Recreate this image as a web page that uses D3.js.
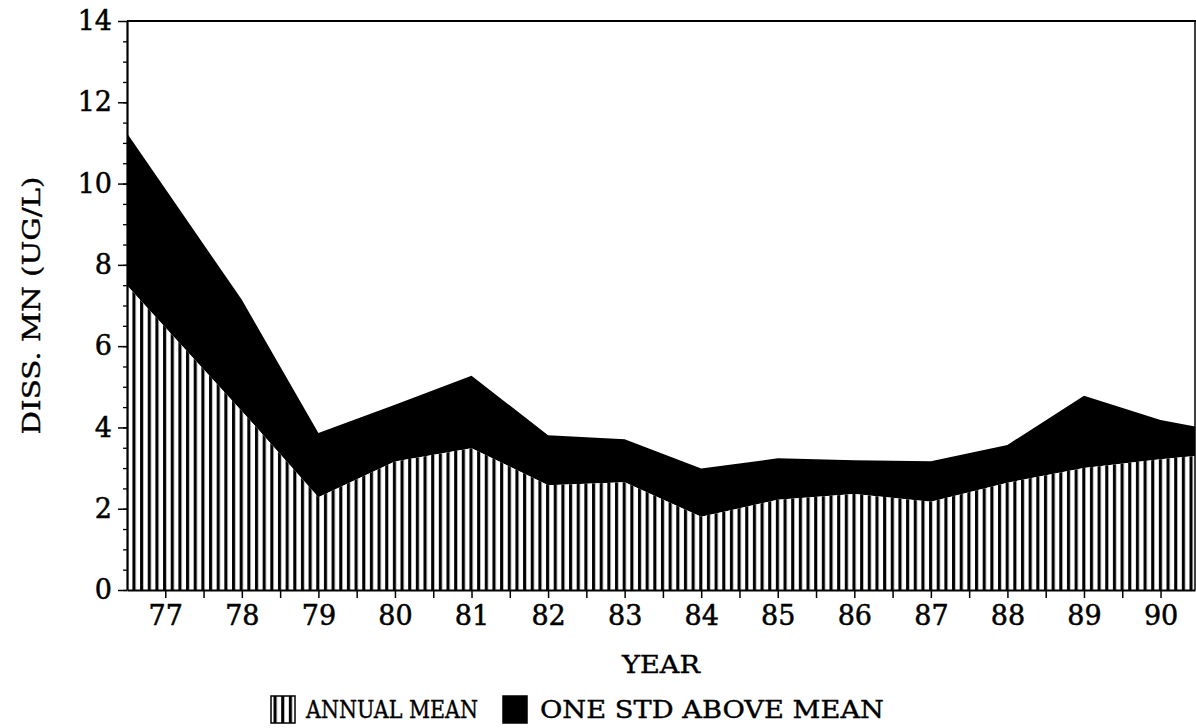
<!DOCTYPE html>
<html>
<head>
<meta charset="utf-8">
<script src="https://cdn.jsdelivr.net/npm/d3@7"></script>
<style>
  body { margin: 0; background: #fff; }
  svg { display: block; }
</style>
</head>
<body>
<svg id="chart"></svg>
<script>
// values; first and last entries are where the plot edges cut the series
const years = [76.5, 77, 78, 79, 80, 81, 82, 83, 84, 85, 86, 87, 88, 89, 90, 90.45];
const annualMean = [7.49, 6.46, 4.4, 2.28, 3.16, 3.49, 2.58, 2.65, 1.8, 2.22, 2.36, 2.17, 2.64, 3.0, 3.22, 3.3];
const oneStdAbove = [11.24, 9.87, 7.14, 3.86, 4.56, 5.27, 3.81, 3.71, 2.99, 3.24, 3.19, 3.17, 3.57, 4.78, 4.18, 4.02];

const yearLabels = [77, 78, 79, 80, 81, 82, 83, 84, 85, 86, 87, 88, 89, 90];
const yTickLabels = [0, 2, 4, 6, 8, 10, 12, 14];
const legendLabels = ['ANNUAL MEAN', 'ONE STD ABOVE MEAN'];

const width = 1196;
const height = 728;
const margin = { top: 21, right: 1, bottom: 138, left: 127 };
const graphW = width - margin.left - margin.right;
const graphH = height - margin.top - margin.bottom;
const font = "'DejaVu Serif', 'Liberation Serif', serif";

const svg = d3.select('#chart')
  .attr('width', width)
  .attr('height', height)
  .style('font-family', font);

// vertical hatching for the mean area
const defs = svg.append('defs');
const hatch = defs.append('pattern')
  .attr('id', 'vhatch')
  .attr('patternUnits', 'userSpaceOnUse')
  .attr('x', margin.left)
  .attr('width', 7.66)
  .attr('height', 10);
hatch.append('rect').attr('width', 7.66).attr('height', 10).attr('fill', '#fff');
hatch.append('rect').attr('x', 1).attr('width', 3.1).attr('height', 10).attr('fill', '#000');

const xScale = d3.scaleLinear()
  .domain([years[0], years[years.length - 1]])
  .range([0, graphW]);
const yScale = d3.scaleLinear().domain([0, 14]).range([graphH, 0]);

const series = years.map((yr, i) => ({
  year: yr,
  mean: annualMean[i],
  upper: oneStdAbove[i],
}));

const graph = svg.append('g')
  .attr('transform', `translate(${margin.left},${margin.top})`);

const stdArea = d3.area()
  .x(d => xScale(d.year))
  .y0(d => yScale(d.mean))
  .y1(d => yScale(d.upper));

const meanArea = d3.area()
  .x(d => xScale(d.year))
  .y0(yScale(0))
  .y1(d => yScale(d.mean));

graph.append('path')
  .datum(series)
  .attr('d', stdArea)
  .attr('fill', '#000');

graph.append('path')
  .datum(series)
  .attr('d', meanArea)
  .attr('fill', 'url(#vhatch)');

// frame: top and right edges
graph.append('line')
  .attr('x1', 0).attr('x2', graphW + 1)
  .attr('y1', 0).attr('y2', 0)
  .attr('stroke', '#000').attr('stroke-width', 2);
graph.append('line')
  .attr('x1', graphW).attr('x2', graphW)
  .attr('y1', 0).attr('y2', graphH)
  .attr('stroke', '#000').attr('stroke-width', 1.5);

// x axis, ticks every half year, labels on whole years
const halfYears = d3.range(77, 90.5, 0.5);
const xAxis = d3.axisBottom(xScale)
  .tickValues(halfYears)
  .tickSize(8)
  .tickSizeOuter(0)
  .tickPadding(8)
  .tickFormat(d => (yearLabels.includes(d) ? d : ''));

const gx = graph.append('g')
  .attr('transform', `translate(0,${graphH})`)
  .call(xAxis);

// y axis: minor ticks, then labelled major ticks
const gyMinor = graph.append('g')
  .call(d3.axisLeft(yScale).tickValues(d3.range(0, 14, 0.5)).tickSize(4).tickFormat(''));
gyMinor.select('.domain').remove();

const gy = graph.append('g')
  .call(d3.axisLeft(yScale)
    .tickValues(yTickLabels)
    .tickSize(9)
    .tickSizeOuter(0)
    .tickPadding(6));

[gx, gy].forEach(g => {
  g.select('.domain').attr('stroke-width', 2.2);
  g.selectAll('.tick line').attr('stroke-width', 1.5);
  g.selectAll('text')
    .attr('font-family', font)
    .attr('font-size', 27)
    .attr('fill', '#000')
    .attr('stroke', '#000')
    .attr('stroke-width', 0.5);
});
gyMinor.selectAll('.tick line').attr('stroke-width', 1.3);

// axis titles
svg.append('text')
  .attr('transform', `translate(40,${margin.top + graphH / 2}) rotate(-90)`)
  .attr('text-anchor', 'middle')
  .attr('font-size', 25)
  .attr('stroke', '#000')
  .attr('stroke-width', 0.4)
  .attr('textLength', 258)
  .attr('lengthAdjust', 'spacingAndGlyphs')
  .text('DISS. MN (UG/L)');

svg.append('text')
  .attr('x', margin.left + graphW / 2)
  .attr('y', 673)
  .attr('text-anchor', 'middle')
  .attr('font-size', 25)
  .attr('stroke', '#000')
  .attr('stroke-width', 0.4)
  .attr('textLength', 78)
  .attr('lengthAdjust', 'spacingAndGlyphs')
  .text('YEAR');

// legend
const legend = svg.append('g').attr('transform', 'translate(0,696)');
const legendItems = [
  { box: 271, text: 306, len: 172, fill: 'url(#vhatch)' },
  { box: 503, text: 540, len: 344, fill: '#000' },
];
legendItems.forEach((item, i) => {
  legend.append('rect')
    .attr('x', item.box)
    .attr('y', 0)
    .attr('width', 24)
    .attr('height', 27)
    .attr('fill', item.fill)
    .attr('stroke', '#000')
    .attr('stroke-width', 1.5);
  legend.append('text')
    .attr('x', item.text)
    .attr('y', 22)
    .attr('font-size', 25)
    .attr('stroke', '#000')
    .attr('stroke-width', 0.4)
    .attr('textLength', item.len)
    .attr('lengthAdjust', 'spacingAndGlyphs')
    .text(legendLabels[i]);
});
</script>
</body>
</html>
